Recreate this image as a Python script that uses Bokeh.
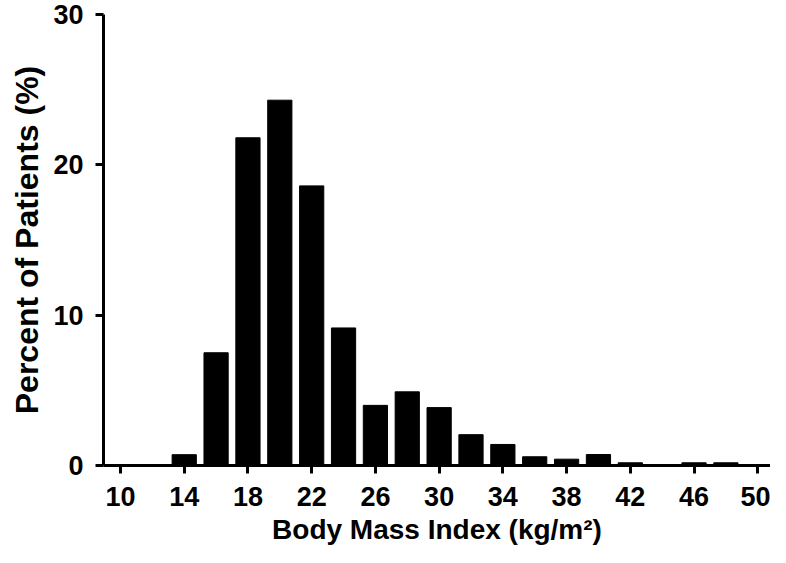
from bokeh.plotting import figure
from bokeh.models import FixedTicker, ColumnDataSource, Title
from bokeh.embed import file_html
from bokeh.resources import INLINE

# Data
bmi = [14, 16, 18, 20, 22, 24, 26, 28, 30, 32, 34, 36, 38, 40, 42, 44, 46, 48]
percent = [0.72, 7.5, 21.8, 24.3, 18.6, 9.15, 4.0, 4.9, 3.85, 2.05, 1.4, 0.58, 0.42, 0.73, 0.18, 0.0, 0.18, 0.18]
x_ticks = [10, 14, 18, 22, 26, 30, 34, 38, 42, 46, 50]
y_ticks = [0, 10, 20, 30]
x_title = "Body Mass Index (kg/m²)"
y_title = "Percent of Patients (%)"

src = ColumnDataSource(dict(x=bmi, top=percent))

p = figure(width=770, height=547, x_range=(8.933, 50.80), y_range=(0, 30),
           output_backend="svg", toolbar_location=None,
           min_border_left=103, min_border_right=0, min_border_top=14, min_border_bottom=81)

p.vbar(x="x", top="top", bottom=0, width=1.52, source=src, color="black")

p.grid.visible = False
p.outline_line_color = None
p.background_fill_color = "white"

FONT = "Liberation Sans"
for ax in (p.xaxis[0], p.yaxis[0]):
    ax.axis_line_width = 3
    ax.axis_line_color = "black"
    ax.major_tick_line_width = 3
    ax.major_tick_line_color = "black"
    ax.major_tick_out = 8
    ax.major_tick_in = 0
    ax.minor_tick_line_color = None
    ax.major_label_text_font = FONT
    ax.major_label_text_font_style = "bold"
    ax.major_label_text_font_size = "27px"
    ax.major_label_text_color = "black"
    ax.axis_label_text_font = FONT
    ax.axis_label_text_font_style = "bold"
    ax.axis_label_text_font_size = "28px"
    ax.axis_label_text_color = "black"

p.xaxis.ticker = FixedTicker(ticks=x_ticks)
p.yaxis.ticker = FixedTicker(ticks=y_ticks)
p.xaxis.axis_label = x_title
p.xaxis.major_label_standoff = 13
p.yaxis.major_label_standoff = 12
p.xaxis.axis_label_standoff = 5

ytitle = Title(text=y_title, align="center", offset=28, standoff=12,
               text_font=FONT, text_font_style="bold", text_font_size="32px",
               text_color="black")
p.add_layout(ytitle, "left")

open("out.html", "w").write(file_html(p, INLINE))
